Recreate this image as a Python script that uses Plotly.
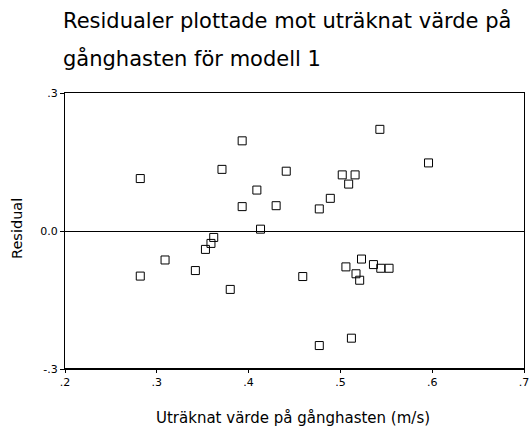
import plotly.graph_objects as go

predicted = [0.393, 0.282, 0.371, 0.441, 0.409, 0.393, 0.430, 0.413, 0.362,
             0.543, 0.596, 0.502, 0.516, 0.509, 0.489, 0.477,
             0.359, 0.353, 0.309, 0.342, 0.282, 0.380, 0.459,
             0.506, 0.523, 0.517, 0.521, 0.536, 0.544, 0.553,
             0.512, 0.477]
residual = [0.196, 0.114, 0.134, 0.130, 0.089, 0.053, 0.055, 0.004, -0.014,
            0.221, 0.148, 0.122, 0.122, 0.102, 0.071, 0.048,
            -0.027, -0.040, -0.063, -0.086, -0.098, -0.127, -0.099,
            -0.078, -0.061, -0.093, -0.107, -0.073, -0.081, -0.081,
            -0.233, -0.249]

x_ticks = [0.2, 0.3, 0.4, 0.5, 0.6, 0.7]
x_labels = [".2", ".3", ".4", ".5", ".6", ".7"]
y_ticks = [-0.3, 0.0, 0.3]
y_labels = ["-.3", "0.0", ".3"]

title_lines = ["Residualer plottade mot uträknat värde på", "gånghasten för modell 1"]
x_title = "Uträknat värde på gånghasten (m/s)"
y_title = "Residual"

font = "DejaVu Sans, Arial, sans-serif"

W, H = 530, 437
L, R, T, B = 65, 6, 93, 68
pw, ph = W - L - R, H - T - B


def px_x(x):
    return (x - L) / pw


def px_y(y):
    return (H - B - y) / ph


fig = go.Figure()
fig.add_trace(go.Scatter(
    x=predicted, y=residual, mode="markers",
    marker=dict(symbol="square-open", size=8, color="black", line=dict(width=1)),
    showlegend=False, hoverinfo="x+y"))

fig.update_layout(
    width=W, height=H,
    margin=dict(l=L, r=R, t=T, b=B, autoexpand=False),
    paper_bgcolor="white", plot_bgcolor="white",
    font=dict(family=font, color="black", size=11),
    xaxis=dict(range=[0.2, 0.7], tickvals=x_ticks, ticktext=x_labels, automargin=False,
               showgrid=False, zeroline=False, showline=True, linecolor="black",
               linewidth=1, mirror=True, ticks="outside", ticklen=3, tickcolor="black",
               tickfont=dict(size=11, family=font)),
    yaxis=dict(range=[-0.3, 0.3], tickvals=y_ticks, ticktext=y_labels, automargin=False,
               showgrid=False, zeroline=True, zerolinecolor="black", zerolinewidth=1,
               showline=True, linecolor="black", linewidth=1, mirror=True,
               ticks="outside", ticklen=4, tickcolor="black",
               tickfont=dict(size=11, family=font)),
)

anns = []
for txt, cy in zip(title_lines, [21, 58.5]):
    anns.append(dict(text=txt, x=px_x(61), y=px_y(cy),
                     xref="paper", yref="paper", xanchor="left", yanchor="middle",
                     showarrow=False, font=dict(size=21, family=font, color="black")))
anns.append(dict(text=x_title, x=px_x(293), y=px_y(418), xref="paper", yref="paper",
                 xanchor="center", yanchor="middle", showarrow=False,
                 font=dict(size=15, family=font, color="black")))
anns.append(dict(text=y_title, x=px_x(17), y=px_y(229), xref="paper", yref="paper",
                 xanchor="center", yanchor="middle", textangle=-90, showarrow=False,
                 font=dict(size=14.5, family=font, color="black")))
fig.update_layout(annotations=anns)

# thicker bottom axis line
fig.add_shape(type="line", xref="paper", yref="paper", x0=0, x1=1, y0=0, y1=0,
              line=dict(color="black", width=2))

fig.write_html("out.html",
               config={"displayModeBar": False},
               post_script="document.body.style.margin='0';"
                           "document.body.style.overflow='hidden';")
